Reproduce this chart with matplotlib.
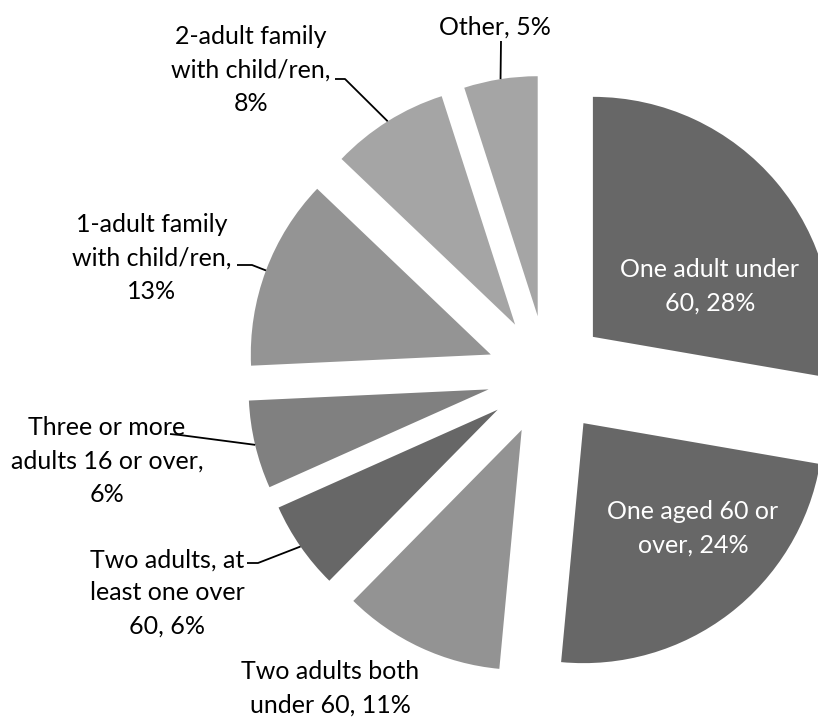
import matplotlib
matplotlib.use("Agg")
import matplotlib.pyplot as plt
import numpy as np

# ---- data ----
categories = ["One adult under\n60", "One aged 60 or\nover", "Two adults both\nunder 60",
              "Two adults, at\nleast one over\n60", "Three or more\nadults 16 or over,\n",
              "1-adult family\nwith child/ren,\n", "2-adult family\nwith child/ren,\n", "Other"]
values = [28, 24, 11, 6, 6, 13, 8, 5]
colors = ["#676767", "#676767", "#939393", "#676767", "#808080", "#949494", "#a5a5a5", "#a5a5a5"]

W, H = 818, 717
fig = plt.figure(figsize=(W / 100, H / 100), dpi=100)
ax = fig.add_axes([0, 0, 1, 1])

def P(x, y):
    return (x, H - y)

R = 240
center = P(547, 375.5)
wedges, _ = ax.pie(values, colors=colors, startangle=90, counterclock=False,
                   radius=R, center=center, explode=[60] * len(values),
                   wedgeprops=dict(linewidth=0))
ax.set_xlim(0, W)
ax.set_ylim(0, H)
ax.set_aspect('auto')
ax.axis('off')

def label_text(i):
    c = categories[i]
    if c.endswith("\n"):
        return c + f"{values[i]}%"
    return c + f", {values[i]}%"

font = dict(family=["Lato", "DejaVu Sans"], fontsize=18, linespacing=1.54)

# label layout (pixel positions of label centres)
layout = {
    0: (710, 286, "white"),
    1: (693, 528, "white"),
    2: (330, 688, "black"),
    3: (167, 593, "black"),
    4: (107, 461, "black"),
    5: (152, 258, "black"),
    6: (251, 70, "black"),
    7: (495, 27, "black"),
}
for i, (x, y, col) in layout.items():
    ax.text(*P(x, y), label_text(i), ha="center", va="center", color=col, **font)

# leader lines: start near the label, end on the wedge's outer arc at mid-angle
leader_starts = {
    3: [(247, 563), (258, 563)],
    4: [(170, 434), (180, 435)],
    5: [(237, 265), (252, 265)],
    6: [(335, 79), (345, 79)],
    7: [(501, 41)],
}
for i, pts in leader_starts.items():
    w = wedges[i]
    tm = np.deg2rad(0.5 * (w.theta1 + w.theta2))
    cx, cy = w.center
    end = (cx + w.r * np.cos(tm), cy + w.r * np.sin(tm))
    xs = [P(*p)[0] for p in pts] + [end[0]]
    ys = [P(*p)[1] for p in pts] + [end[1]]
    ax.plot(xs, ys, color="black", lw=1.3, solid_capstyle="butt")

fig.savefig("out.png", dpi=100, facecolor="white")
